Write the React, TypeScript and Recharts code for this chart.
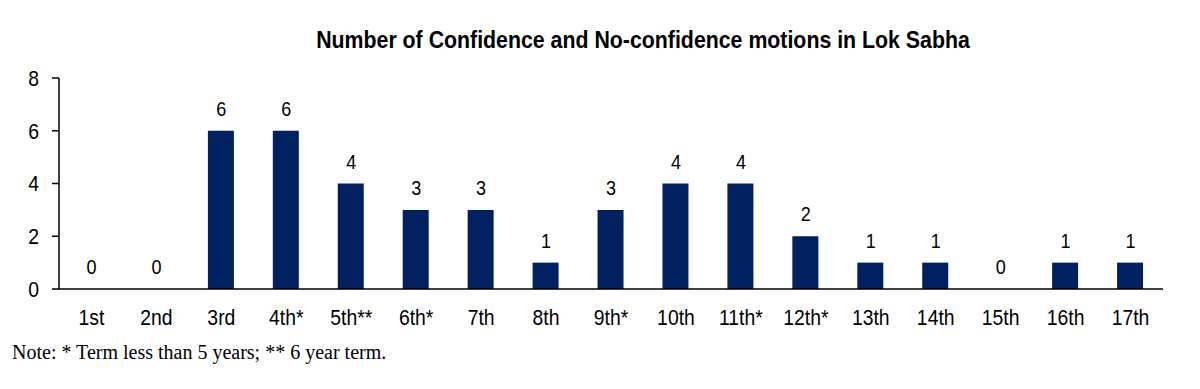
import { ComposedChart, Bar, Line, XAxis, YAxis, LabelList } from "recharts";

const terms = ["1st", "2nd", "3rd", "4th*", "5th**", "6th*", "7th", "8th", "9th*", "10th", "11th*", "12th*", "13th", "14th", "15th", "16th", "17th"];
const motions = [0, 0, 6, 6, 4, 3, 3, 1, 3, 4, 4, 2, 1, 1, 0, 1, 1];
const yTicks = [0, 2, 4, 6, 8];

const chartData = terms.map((term, i) => ({ term, motions: motions[i] }));

// no Arial Narrow here, so squeeze Liberation Sans horizontally
const sans = "'Liberation Sans', Arial, sans-serif";
const squeeze = 0.88;

function YTick(props: any) {
  const { x, y, payload } = props;
  return (
    <text transform={`translate(${x},${y}) scale(${squeeze},1)`} textAnchor="end" dy="0.355em" fontSize={22} fontFamily={sans} fill="#000">
      {payload.value}
    </text>
  );
}

function XTick(props: any) {
  const { x, y, payload } = props;
  return (
    <text transform={`translate(${x},${y}) scale(${squeeze},1)`} textAnchor="middle" dy="0.72em" fontSize={22} fontFamily={sans} fill="#000">
      {payload.value}
    </text>
  );
}

function ValueLabel(props: any) {
  const { x, y, value } = props;
  return (
    <text transform={`translate(${x},${y - 15}) scale(${squeeze},1)`} textAnchor="middle" fontSize={20.5} fontFamily={sans} fill="#000">
      {value}
    </text>
  );
}

export default function App() {
  return (
    <div style={{ position: "absolute", left: 0, top: 0, width: 1200, height: 389, background: "#fff" }}>
      <div
        style={{
          position: "absolute",
          left: 143,
          width: 1000,
          top: 26,
          textAlign: "center",
          fontFamily: sans,
          fontWeight: "bold",
          fontSize: 24.5,
          color: "#000",
          transform: "scaleX(0.87)",
          transformOrigin: "center",
          whiteSpace: "nowrap",
        }}
      >
        Number of Confidence and No-confidence motions in Lok Sabha
      </div>
      <ComposedChart
        width={1200}
        height={389}
        data={chartData}
        margin={{ top: 78, right: 37, left: 0, bottom: 70 }}
      >
        <YAxis
          width={59}
          domain={[0, 8]}
          ticks={yTicks}
          interval={0}
          tickSize={7}
          tickMargin={13}
          tick={<YTick />}
          axisLine={{ stroke: "#000", strokeWidth: 1.5 }}
          tickLine={{ stroke: "#000", strokeWidth: 1.5 }}
        />
        <XAxis
          dataKey="term"
          height={30}
          interval={0}
          tickSize={0}
          tickMargin={20}
          tick={<XTick />}
          axisLine={{ stroke: "#000", strokeWidth: 1.5 }}
          tickLine={false}
        />
        <Bar dataKey="motions" fill="#002060" barSize={26} isAnimationActive={false} />
        <Line dataKey="motions" stroke="none" dot={false} activeDot={false} isAnimationActive={false}>
          <LabelList dataKey="motions" content={<ValueLabel />} />
        </Line>
      </ComposedChart>
      <div
        style={{
          position: "absolute",
          left: 12,
          top: 341,
          fontFamily: "'Liberation Serif', 'Times New Roman', serif",
          fontSize: 20,
          color: "#000",
          whiteSpace: "nowrap",
        }}
      >
        Note: * Term less than 5 years; ** 6 year term.
      </div>
    </div>
  );
}
